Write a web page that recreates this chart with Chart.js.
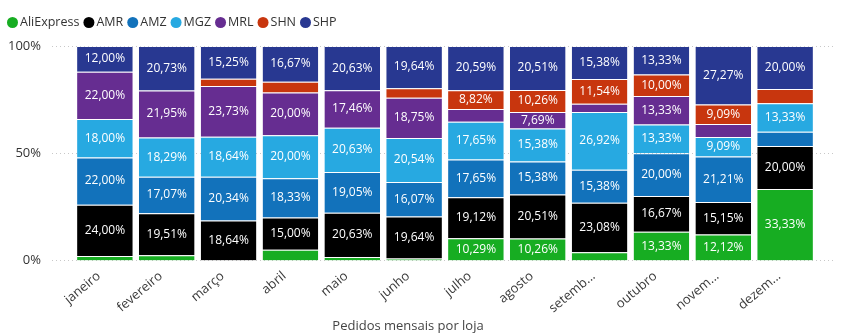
<!DOCTYPE html>
<html>
<head>
<meta charset="utf-8">
<script src="https://cdn.jsdelivr.net/npm/chart.js@4"></script>
<style>
  html, body { margin: 0; padding: 0; background: #fff; }
  #wrap { width: 848px; height: 336px; }
</style>
</head>
<body>
<div id="wrap"><canvas id="chart"></canvas></div>
<script>
const months = ["janeiro", "fevereiro", "março", "abril", "maio", "junho", "julho", "agosto", "setemb...", "outubro", "novem...", "dezem..."];

// percent of monthly orders per store
const aliExpress = [2.00, 2.44, 0, 5.00, 1.59, 0.89, 10.29, 10.26, 3.85, 13.33, 12.12, 33.33];
const amr = [24.00, 19.51, 18.64, 15.00, 20.63, 19.64, 19.12, 20.51, 23.08, 16.67, 15.15, 20.00];
const amz = [22.00, 17.07, 20.34, 18.33, 19.05, 16.07, 17.65, 15.38, 15.38, 20.00, 21.21, 6.67];
const mgz = [18.00, 18.29, 18.64, 20.00, 20.63, 20.54, 17.65, 15.38, 26.92, 13.33, 9.09, 13.33];
const mrl = [22.00, 21.95, 23.73, 20.00, 17.46, 18.75, 5.88, 7.69, 3.85, 13.33, 6.06, 0];
const shn = [0, 0, 3.39, 5.00, 0, 4.46, 8.82, 10.26, 11.54, 10.00, 9.09, 6.67];
const shp = [12.00, 20.73, 15.25, 16.67, 20.63, 19.64, 20.59, 20.51, 15.38, 13.33, 27.27, 20.00];

const FONT = "'Open Sans', 'Noto Sans', sans-serif";

const series = [
  { label: "AliExpress", data: aliExpress, color: "#17ad22" },
  { label: "AMR", data: amr, color: "#000000" },
  { label: "AMZ", data: amz, color: "#1272bb" },
  { label: "MGZ", data: mgz, color: "#27a9e1" },
  { label: "MRL", data: mrl, color: "#662d91" },
  { label: "SHN", data: shn, color: "#c8360e" },
  { label: "SHP", data: shp, color: "#283891" }
];

// dotted y grid, a bit wider than the plot like the original
const dottedGrid = {
  id: "dottedGrid",
  beforeDatasetsDraw(chart) {
    const { ctx, chartArea, scales } = chart;
    ctx.save();
    ctx.strokeStyle = "#c8c8c8";
    ctx.lineWidth = 1;
    ctx.setLineDash([1, 3]);
    scales.y.ticks.forEach(t => {
      const y = Math.round(scales.y.getPixelForValue(t.value)) + 0.5;
      ctx.beginPath();
      ctx.moveTo(chartArea.left - 22, y);
      ctx.lineTo(chartArea.right + 19, y);
      ctx.stroke();
    });
    ctx.restore();
  }
};

// compact legend: dot + name, tight spacing
const compactLegend = {
  id: "compactLegend",
  afterDraw(chart) {
    const { ctx } = chart;
    ctx.save();
    ctx.font = "12.5px " + FONT;
    ctx.textBaseline = "middle";
    let x = 7;
    const y = 22.5;
    chart.data.datasets.forEach(ds => {
      ctx.fillStyle = ds.backgroundColor;
      ctx.beginPath();
      ctx.arc(x + 5.5, y, 5.5, 0, Math.PI * 2);
      ctx.fill();
      x += 13;
      ctx.fillStyle = "#333";
      ctx.fillText(ds.label, x, y);
      x += ctx.measureText(ds.label).width + 4;
    });
    ctx.restore();
  }
};

const segLabels = {
  id: "segLabels",
  afterDatasetsDraw(chart) {
    const { ctx } = chart;
    ctx.save();
    ctx.font = "12px " + FONT;
    ctx.fillStyle = "#ffffff";
    ctx.textAlign = "center";
    ctx.textBaseline = "middle";
    chart.data.datasets.forEach((ds, di) => {
      chart.getDatasetMeta(di).data.forEach((bar, i) => {
        const v = ds.data[i];
        if (v < 7) return;
        const txt = v.toFixed(2).replace(".", ",") + "%";
        ctx.fillText(txt, bar.x, (bar.y + bar.base) / 2);
      });
    });
    ctx.restore();
  }
};

new Chart(document.getElementById("chart"), {
  type: "bar",
  data: {
    labels: months,
    datasets: series.map(s => ({
      label: s.label,
      data: s.data,
      backgroundColor: s.color,
      borderColor: "rgba(255,255,255,0.25)",
      borderWidth: { top: 1 },
      borderSkipped: false,
      barPercentage: 0.9,
      categoryPercentage: 1
    }))
  },
  options: {
    responsive: true,
    maintainAspectRatio: false,
    animation: false,
    layout: { autoPadding: false, padding: { left: 0, right: 32, top: 46, bottom: 0 } },
    plugins: {
      legend: { display: false },
      title: {
        display: true,
        position: "bottom",
        text: "Pedidos mensais por loja",
        color: "#444",
        font: { family: FONT, size: 13, weight: "normal" },
        padding: { top: 3, bottom: 2 }
      },
      tooltip: { enabled: false }
    },
    scales: {
      x: {
        stacked: true,
        grid: { display: false, drawTicks: false },
        border: { display: false },
        afterFit: s => { s.height = 55; },
        ticks: {
          color: "#3a3a3a",
          padding: 8,
          labelOffset: -6,
          font: { family: FONT, size: 13 },
          minRotation: 40,
          maxRotation: 40,
          autoSkip: false
        }
      },
      y: {
        stacked: true,
        min: 0,
        max: 100,
        grid: { display: false, drawTicks: false },
        border: { display: false },
        afterFit: s => { s.width = 74; },
        ticks: {
          stepSize: 50,
          padding: 33,
          color: "#333",
          font: { family: FONT, size: 13 },
          callback: v => v + "%"
        }
      }
    }
  },
  plugins: [dottedGrid, segLabels, compactLegend]
});
</script>
</body>
</html>
